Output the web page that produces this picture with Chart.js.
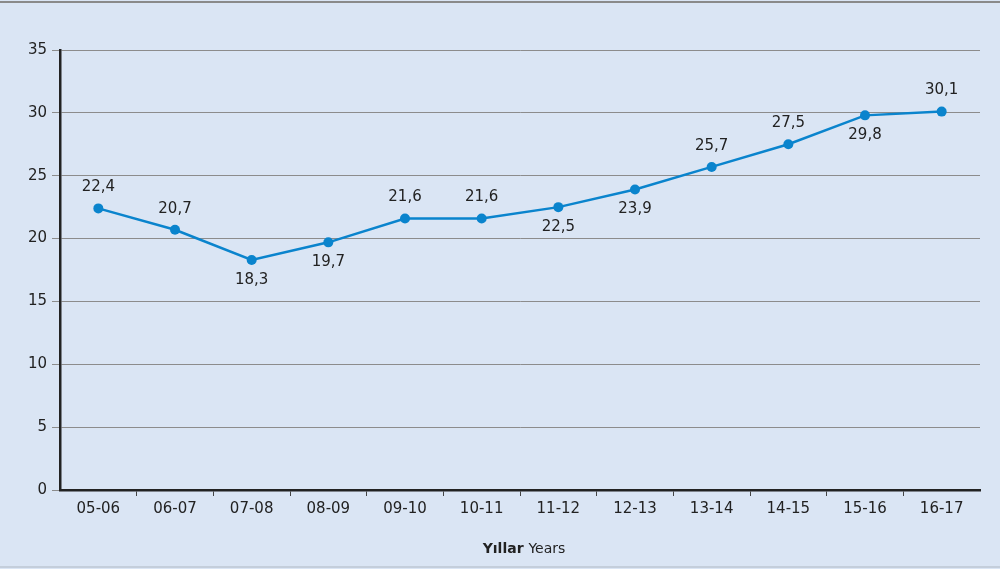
<!DOCTYPE html>
<html>
<head>
<meta charset="utf-8">
<script src="https://cdn.jsdelivr.net/npm/chart.js@4/dist/chart.umd.min.js"></script>
<style>
  html, body { margin: 0; padding: 0; background: #dae5f4; }
  #wrap { width: 1000px; height: 569px; }
</style>
</head>
<body>
<div id="wrap"><canvas id="chart"></canvas></div>
<script>
var years = ["05-06", "06-07", "07-08", "08-09", "09-10", "10-11", "11-12", "12-13", "13-14", "14-15", "15-16", "16-17"]
var values = [22.4, 20.7, 18.3, 19.7, 21.6, 21.6, 22.5, 23.9, 25.7, 27.5, 29.8, 30.1]
var yTicks = [0, 5, 10, 15, 20, 25, 30, 35]

var fontName = "'DejaVu Sans', sans-serif"
// which labels sit above the point (true) or below (false)
var above = [true, true, false, false, true, true, false, false, true, true, false, true]

var decorPlugin = {
    id: 'decor',
    beforeDraw: function (chart) {
        var c = chart.ctx
        c.save()
        c.fillStyle = '#dae5f4'
        c.fillRect(0, 0, chart.width, chart.height)
        c.fillStyle = '#8a8a8a'
        c.fillRect(0, 1, chart.width, 2)
        c.fillStyle = '#c4cedb'
        c.fillRect(0, 566, chart.width, 2)
        c.restore()
    },
    afterDatasetsDraw: function (chart) {
        var c = chart.ctx
        var meta = chart.getDatasetMeta(0)
        c.save()
        c.font = '15px ' + fontName
        c.fillStyle = '#222'
        c.textAlign = 'center'
        c.textBaseline = 'middle'
        meta.data.forEach(function (pt, i) {
            var txt = values[i].toFixed(1).replace('.', ',')
            var dy = above[i] ? -21 : 20
            c.fillText(txt, pt.x, pt.y + dy)
        })
        // axis title: bold Turkish word + regular English word
        var area = chart.chartArea
        var cx = (area.left + area.right) / 2
        c.textAlign = 'left'
        c.font = 'bold 14px ' + fontName
        var w1 = c.measureText('Yıllar ').width
        c.font = '14px ' + fontName
        var w2 = c.measureText('Years').width
        var x0 = cx - (w1 + w2) / 2 + 4
        c.font = 'bold 14px ' + fontName
        c.fillText('Yıllar ', x0, 549)
        c.font = '14px ' + fontName
        c.fillText('Years', x0 + w1, 549)
        c.restore()
    }
}

var ctx = document.getElementById("chart")

var chartGraph = new Chart(ctx, {
    type: 'line',
    data: {
        labels: years,
        datasets: [{
            label: "Yıllar",
            data: values,
            borderWidth: 2.5,
            borderColor: '#0a84cd',
            backgroundColor: '#0a84cd',
            pointRadius: 5,
            pointBackgroundColor: '#0a84cd',
            pointBorderWidth: 0,
            tension: 0
        }]
    },
    options: {
        responsive: true,
        maintainAspectRatio: false,
        animation: false,
        layout: { padding: { left: 0, right: 20, top: 50, bottom: 0 } },
        plugins: {
            legend: { display: false },
            tooltip: { enabled: false }
        },
        scales: {
            x: {
                offset: true,
                grid: {
                    offset: true,
                    drawOnChartArea: false,
                    drawTicks: true,
                    tickLength: 6,
                    tickColor: function (c) {
                        return (c.index === undefined || c.index === 0) ? 'rgba(0,0,0,0)' : '#444'
                    },
                    tickWidth: 1
                },
                border: { color: '#222', width: 2.5 },
                ticks: {
                    color: '#222',
                    font: { family: fontName, size: 15 },
                    padding: 4,
                    maxRotation: 0
                },
                afterFit: function (s) { s.height = 79 }
            },
            y: {
                min: 0,
                max: 35,
                afterBuildTicks: function (s) {
                    s.ticks = yTicks.map(function (v) { return { value: v } })
                },
                grid: {
                    color: '#8c8c8c',
                    lineWidth: 1,
                    drawTicks: true,
                    tickLength: 8,
                    tickColor: '#8c8c8c'
                },
                border: { color: '#222', width: 2.5 },
                ticks: {
                    color: '#222',
                    font: { family: fontName, size: 15 },
                    padding: 5
                },
                afterFit: function (s) { s.width = 60 }
            }
        }
    },
    plugins: [decorPlugin]
})
</script>
</body>
</html>
